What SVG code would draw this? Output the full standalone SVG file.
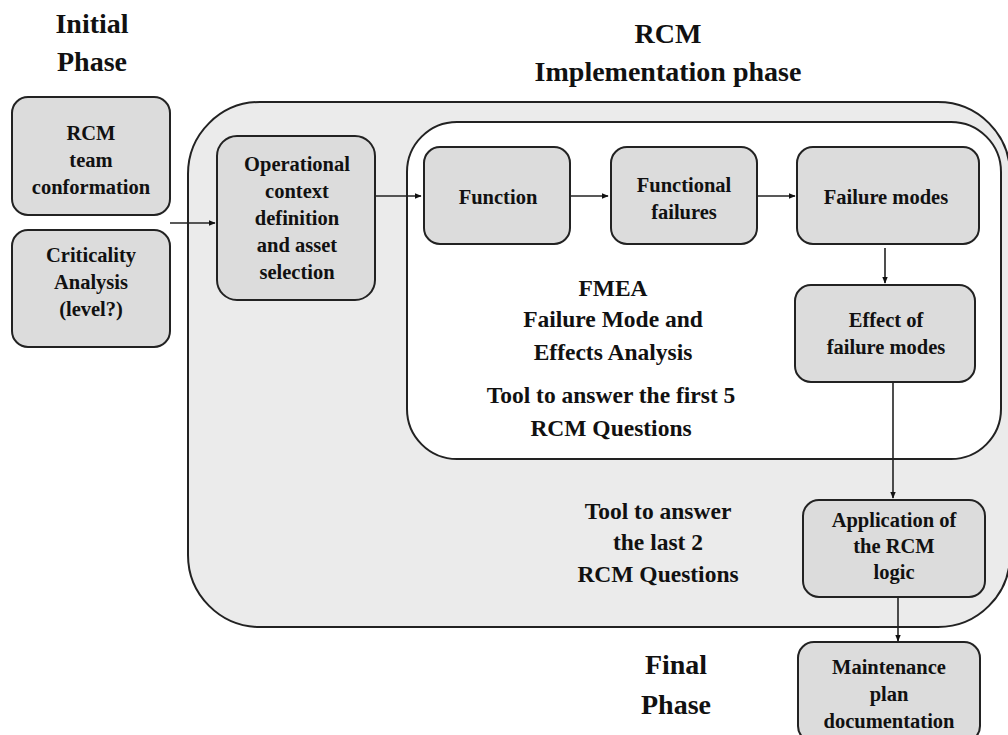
<svg xmlns="http://www.w3.org/2000/svg" width="1008" height="735" viewBox="0 0 1008 735" font-family="Liberation Serif, DejaVu Serif, serif">
  <style>
    .box { fill: #dcdcdc; stroke: #222; stroke-width: 2; }
    .t { font-weight: bold; fill: #111; text-anchor: middle; }
    .bt { font-size: 20.5px; }
    .mt { font-size: 23.5px; }
    .ht { font-size: 28px; }
    .con { stroke: #222; stroke-width: 1.6; fill: none; marker-end: url(#ah); }
  </style>
  <defs>
    <marker id="ah" viewBox="0 0 10 10" refX="9" refY="5" markerWidth="7" markerHeight="7" orient="auto" markerUnits="userSpaceOnUse">
      <path d="M0,1 L10,5 L0,9 z" fill="#111"/>
    </marker>
  </defs>
  <rect width="1008" height="735" fill="#fff"/>

  <!-- phase frames -->
  <g id="implementation-frame">
    <rect x="188" y="102" width="822" height="525" rx="72" ry="72" fill="#ebebeb" stroke="#222" stroke-width="2"/>
  </g>
  <g id="fmea-frame">
    <rect x="407" y="122" width="594" height="337" rx="50" ry="50" fill="#fff" stroke="#222" stroke-width="2"/>
  </g>

  <!-- headings -->
  <g id="headings">
    <text class="t ht" x="92" y="33">Initial</text>
    <text class="t ht" x="92" y="71">Phase</text>
    <text class="t ht" x="668" y="43">RCM</text>
    <text class="t ht" x="668" y="81">Implementation phase</text>
    <text class="t mt" x="613" y="296">FMEA</text>
    <text class="t mt" x="613" y="327">Failure Mode and</text>
    <text class="t mt" x="613" y="360">Effects Analysis</text>
    <text class="t mt" x="611" y="403">Tool to answer the first 5</text>
    <text class="t mt" x="611" y="436">RCM Questions</text>
    <text class="t mt" x="658" y="519">Tool to answer</text>
    <text class="t mt" x="658" y="550">the last 2</text>
    <text class="t mt" x="658" y="582">RCM Questions</text>
    <text class="t ht" x="676" y="674">Final</text>
    <text class="t ht" x="676" y="714">Phase</text>
  </g>

  <!-- connectors -->
  <g id="connectors">
    <line class="con" x1="170" y1="223" x2="215" y2="223"/>
    <line class="con" x1="375" y1="196" x2="421" y2="196"/>
    <line class="con" x1="570" y1="196" x2="608" y2="196"/>
    <line class="con" x1="757" y1="196" x2="795" y2="196"/>
    <line class="con" x1="885" y1="248" x2="885" y2="283"/>
    <line class="con" x1="893" y1="382" x2="893" y2="498"/>
    <line class="con" x1="898" y1="597" x2="898" y2="641"/>
  </g>

  <!-- nodes -->
  <g id="rcm-team">
    <rect class="box" x="12" y="97" width="158" height="118" rx="16"/>
    <text class="t bt" x="91" y="140">RCM</text>
    <text class="t bt" x="91" y="167">team</text>
    <text class="t bt" x="91" y="194">conformation</text>
  </g>
  <g id="criticality-analysis">
    <rect class="box" x="12" y="230" width="158" height="117" rx="16"/>
    <text class="t bt" x="91" y="262">Criticality</text>
    <text class="t bt" x="91" y="289">Analysis</text>
    <text class="t bt" x="91" y="316">(level?)</text>
  </g>
  <g id="operational-context">
    <rect class="box" x="217" y="136" width="158" height="164" rx="20"/>
    <text class="t bt" x="297" y="171">Operational</text>
    <text class="t bt" x="297" y="198">context</text>
    <text class="t bt" x="297" y="225">definition</text>
    <text class="t bt" x="297" y="252">and asset</text>
    <text class="t bt" x="297" y="279">selection</text>
  </g>
  <g id="function">
    <rect class="box" x="424" y="147" width="146" height="97" rx="16"/>
    <text class="t bt" x="498" y="204">Function</text>
  </g>
  <g id="functional-failures">
    <rect class="box" x="611" y="147" width="146" height="97" rx="16"/>
    <text class="t bt" x="684" y="192">Functional</text>
    <text class="t bt" x="684" y="219">failures</text>
  </g>
  <g id="failure-modes">
    <rect class="box" x="797" y="147" width="182" height="97" rx="16"/>
    <text class="t bt" x="886" y="204">Failure modes</text>
  </g>
  <g id="effect-of-failure-modes">
    <rect class="box" x="795" y="285" width="180" height="97" rx="16"/>
    <text class="t bt" x="886" y="327">Effect of</text>
    <text class="t bt" x="886" y="354">failure modes</text>
  </g>
  <g id="rcm-logic">
    <rect class="box" x="803" y="500" width="182" height="97" rx="16"/>
    <text class="t bt" x="894" y="527">Application of</text>
    <text class="t bt" x="894" y="553">the RCM</text>
    <text class="t bt" x="894" y="579">logic</text>
  </g>
  <g id="maintenance-plan">
    <rect class="box" x="798" y="642" width="182" height="100" rx="16"/>
    <text class="t bt" x="889" y="674">Maintenance</text>
    <text class="t bt" x="889" y="701">plan</text>
    <text class="t bt" x="889" y="728">documentation</text>
  </g>
</svg>
